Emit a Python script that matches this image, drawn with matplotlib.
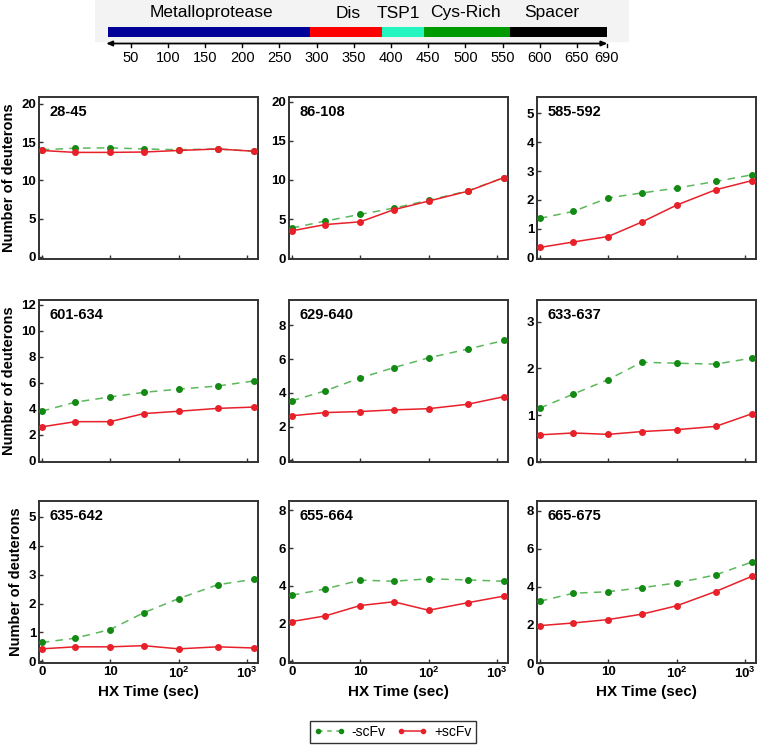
import numpy as np
import matplotlib
matplotlib.use("Agg")
import matplotlib.pyplot as plt

plt.rcParams['font.family'] = ['Liberation Sans', 'DejaVu Sans']
plt.rcParams['mathtext.fontset'] = 'custom'
plt.rcParams['mathtext.rm'] = 'Liberation Sans:bold'
plt.rcParams['mathtext.default'] = 'rm'

# domain map
domain_names = ["Metalloprotease", "Dis", "TSP1", "Cys-Rich", "Spacer"]
domain_starts = [20, 291, 388, 445, 560]
domain_ends = [291, 388, 445, 560, 691]
domain_colors = ["#000099", "#ff0000", "#22f5c0", "#009900", "#000000"]
domain_label_x = [158, 343, 410, 500, 616]
residue_ticks = [50, 100, 150, 200, 250, 300, 350, 400, 450, 500, 550, 600, 650, 690]

# HX time points (log10 position, 0 = first label)
hx_pos = [0, 0.49, 1.0, 1.49, 2.0, 2.57, 3.1]
hx_tick_pos = [0, 1, 2, 3]
hx_tick_labels = ["0", "10", "10$^{2}$", "10$^{3}$"]

peptides = ["28-45", "86-108", "585-592",
            "601-634", "629-640", "633-637",
            "635-642", "655-664", "665-675"]

minus_scfv = [
    [14.0, 14.2, 14.25, 14.1, 14.0, 14.1, 13.8],
    [3.85, 4.75, 5.6, 6.4, 7.4, 8.6, 10.3],
    [1.36, 1.6, 2.07, 2.24, 2.41, 2.64, 2.87],
    [3.8, 4.5, 4.9, 5.25, 5.5, 5.74, 6.13],
    [3.52, 4.12, 4.88, 5.49, 6.07, 6.59, 7.1],
    [1.15, 1.45, 1.76, 2.13, 2.11, 2.09, 2.22],
    [0.65, 0.8, 1.1, 1.68, 2.17, 2.65, 2.84],
    [3.5, 3.83, 4.3, 4.24, 4.37, 4.31, 4.24],
    [3.24, 3.66, 3.74, 3.95, 4.2, 4.62, 5.3],
]
plus_scfv = [
    [13.9, 13.65, 13.65, 13.7, 13.9, 14.1, 13.8],
    [3.5, 4.3, 4.65, 6.2, 7.3, 8.55, 10.3],
    [0.35, 0.54, 0.73, 1.23, 1.82, 2.35, 2.67],
    [2.6, 3.0, 3.0, 3.62, 3.8, 4.02, 4.12],
    [2.64, 2.83, 2.89, 2.99, 3.06, 3.32, 3.77],
    [0.58, 0.62, 0.59, 0.65, 0.69, 0.76, 1.03],
    [0.43, 0.5, 0.5, 0.54, 0.43, 0.5, 0.46],
    [2.1, 2.4, 2.95, 3.15, 2.7, 3.1, 3.45],
    [1.96, 2.1, 2.28, 2.56, 3.0, 3.75, 4.55],
]

y_limits = [(-0.3, 20.9), (-0.1, 20.6), (-0.05, 5.57),
            (-0.1, 12.35), (-0.1, 9.5), (0, 3.46),
            (-0.06, 5.55), (-0.1, 8.5), (0, 8.5)]
y_ticks = [[0, 5, 10, 15, 20], [0, 5, 10, 15, 20], [0, 1, 2, 3, 4, 5],
           [0, 2, 4, 6, 8, 10, 12], [0, 2, 4, 6, 8], [0, 1, 2, 3],
           [0, 1, 2, 3, 4, 5], [0, 2, 4, 6, 8], [0, 2, 4, 6, 8]]

W, H = 760, 751
fig = plt.figure(figsize=(W / 100, H / 100), dpi=100)


def px_axes(left, top, right, bottom):
    return fig.add_axes([left / W, 1 - bottom / H, (right - left) / W, (bottom - top) / H])


# ---- domain bar ----
dax = px_axes(95, 0, 629, 72)
dax.set_xlim(2, 720)
dax.set_ylim(72, 0)
dax.axis("off")
dax.axhspan(0, 41, color="#f3f3f3", zorder=0)
for s, e, c in zip(domain_starts, domain_ends, domain_colors):
    dax.fill_between([s, e], 27, 37, color=c, lw=0, zorder=2)
for name, x in zip(domain_names, domain_label_x):
    dax.text(x, 13, name, ha="center", va="center", fontsize=12.5, zorder=3)
dax.annotate("", xy=(691, 43.5), xytext=(17, 43.5),
             arrowprops=dict(arrowstyle="<|-|>,head_length=0.35,head_width=0.15",
                             color="black", lw=1.3, shrinkA=0, shrinkB=0))
for t in residue_ticks:
    dax.plot([t, t], [43.5, 47], color="black", lw=1)
    dax.text(t, 58, str(t), ha="center", va="center", fontsize=10.5)

# ---- HX panels ----
col_left = [39, 289, 537]
row_top = [97, 300, 501]
pw, ph = 219, 162

green_line = "#5cb85c"
green_mark = "#138a13"
red = "#e8202a"

for i, pep in enumerate(peptides):
    r, c = divmod(i, 3)
    ax = px_axes(col_left[c], row_top[r], col_left[c] + pw, row_top[r] + ph)
    ax.plot(hx_pos, minus_scfv[i], ls=(0, (5, 4)), color=green_line, lw=1.1,
            marker="o", ms=4, mfc=green_mark, mec=green_mark, clip_on=False, zorder=3)
    ax.plot(hx_pos, plus_scfv[i], ls="-", color=red, lw=1.1,
            marker="o", ms=4, mfc=red, mec=red, clip_on=False, zorder=4)
    ax.set_xlim(-0.04, 3.16)
    ax.set_ylim(*y_limits[i])
    ax.set_yticks(y_ticks[i])
    ax.set_xticks(hx_tick_pos)
    if r == 2:
        ax.set_xticklabels(hx_tick_labels, fontsize=9.5, fontweight="bold")
        ax.set_xlabel("HX Time (sec)", fontsize=11, fontweight="bold", labelpad=3)
    else:
        ax.set_xticklabels([])
    for lab in ax.get_yticklabels():
        lab.set_fontweight("bold")
        lab.set_fontsize(9.5)
    ax.tick_params(direction="in", length=3, width=1, pad=2, color="#333333")
    for sp in ax.spines.values():
        sp.set_linewidth(1.4)
        sp.set_color("#333333")
    if c == 0:
        ax.set_ylabel("Number of deuterons", fontsize=10.5, fontweight="bold", labelpad=4)
    ax.text(0.05, 0.95, pep, transform=ax.transAxes, ha="left", va="top",
            fontsize=10.5, fontweight="bold")

# ---- legend ----
handles = [
    plt.Line2D([], [], ls=(0, (3, 3)), color=green_line, lw=1.1, marker="o", ms=3,
               mfc=green_mark, mec=green_mark),
    plt.Line2D([], [], ls="-", color=red, lw=1.1, marker="o", ms=3, mfc=red, mec=red),
]
leg = fig.legend(handles, ["-scFv", "+scFv"], loc="center", ncol=2,
                 bbox_to_anchor=(393 / W, 1 - 732 / H), numpoints=2, fontsize=10,
                 frameon=True, fancybox=False, edgecolor="black", handlelength=2.2,
                 columnspacing=0.8, handletextpad=0.5, borderpad=0.3)
leg.get_frame().set_linewidth(1.0)

fig.savefig("out.png", dpi=100, facecolor="white")
